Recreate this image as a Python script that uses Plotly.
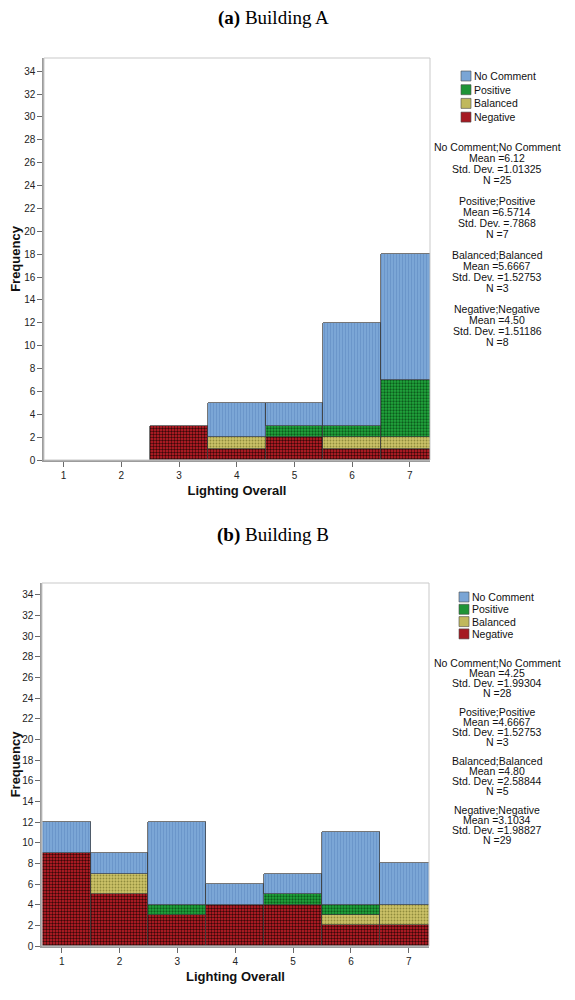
import plotly.graph_objects as go

# Lighting Overall rating (x categories)
ratings = [1, 2, 3, 4, 5, 6, 7]
groups = ["No Comment", "Positive", "Balanced", "Negative"]
y_ticks = list(range(0, 35, 2))

# (a) Building A - counts per rating
a_no_comment = [0, 0, 0, 3, 2, 9, 11]
a_positive = [0, 0, 0, 0, 1, 1, 5]
a_balanced = [0, 0, 0, 1, 0, 1, 1]
a_negative = [0, 0, 3, 1, 2, 1, 1]
a_means = ["6.12", "6.5714", "5.6667", "4.50"]
a_sds = ["1.01325", ".7868", "1.52753", "1.51186"]

# (b) Building B - counts per rating
b_no_comment = [3, 2, 8, 2, 2, 7, 4]
b_positive = [0, 0, 1, 0, 1, 1, 0]
b_balanced = [0, 2, 0, 0, 0, 1, 2]
b_negative = [9, 5, 3, 4, 4, 2, 2]
b_means = ["4.25", "4.6667", "4.80", "3.1034"]
b_sds = ["1.99304", "1.52753", "2.58844", "1.98827"]

# page body has an 8px margin, so the figure is a bit smaller than the window
OFF = 8
W, H = 575 - OFF, 1000 - OFF
SANS = "Liberation Sans, Arial, sans-serif"
SERIF = "Liberation Serif, Times New Roman, serif"

# fill style per group (bar pattern + flat swatch colour for the key)
style = {
    "No Comment": dict(bg="#7BA6D6", fg="#5F8CC2", shape="|", size=3, sol=0.2, sw="#7AA5D5"),
    "Positive": dict(bg="#22A83E", fg="#0C5C1C", shape=".", size=3, sol=0.45, sw="#1E9436"),
    "Balanced": dict(bg="#CCC268", fg="#8F8B3C", shape=".", size=3, sol=0.3, sw="#C0B85C"),
    "Negative": dict(bg="#CC1F2A", fg="#3A0808", shape=".", size=3, sol=0.5, sw="#A51A22"),
}


def px(x):
    return (x - OFF) / W


def py(y):
    return 1 - (y - OFF) / H


panels = [
    dict(tag="a", name="Building A", xa="x", ya="y",
         counts={"No Comment": a_no_comment, "Positive": a_positive,
                 "Balanced": a_balanced, "Negative": a_negative},
         means=a_means, sds=a_sds,
         xdom=[px(44), px(430)], ydom=[py(460), py(58)], title_y=18,
         leg_y0=76, leg_dy=13.7, leg_x=461,
         st_y0=147, st_dy=10.9, st_block=54),
    dict(tag="b", name="Building B", xa="x2", ya="y2",
         counts={"No Comment": b_no_comment, "Positive": b_positive,
                 "Balanced": b_balanced, "Negative": b_negative},
         means=b_means, sds=b_sds,
         xdom=[px(42), px(429)], ydom=[py(946), py(583)], title_y=535,
         leg_y0=597, leg_dy=12.3, leg_x=459,
         st_y0=663, st_dy=9.9, st_block=49),
]

fig = go.Figure()
annotations = []
shapes = []

for p in panels:
    # stacked from the bottom: Negative, Balanced, Positive, No Comment
    for g in reversed(groups):
        s = style[g]
        fig.add_trace(go.Bar(
            x=ratings, y=[v if v else None for v in p["counts"][g]], name=g, width=1,
            xaxis=p["xa"], yaxis=p["ya"],
            marker=dict(color=s["bg"],
                        line=dict(color="#3C3C3C", width=0.7),
                        pattern=dict(shape=s["shape"], fgcolor=s["fg"], bgcolor=s["bg"],
                                     size=s["size"], solidity=s["sol"])),
            showlegend=False))

    # light frame round the plot area
    shapes.append(dict(type="rect", xref=p["xa"] + " domain", yref=p["ya"] + " domain",
                       x0=0, x1=1, y0=0, y1=1, layer="above",
                       line=dict(color="#C9C9C9", width=1)))

    annotations.append(dict(
        text="<b>(%s)</b> %s" % (p["tag"], p["name"]), xref="paper", yref="paper",
        x=px(273), y=py(p["title_y"]), showarrow=False, xanchor="center", yanchor="middle",
        font=dict(family=SERIF, size=19, color="#000")))

    # key
    for i, g in enumerate(groups):
        yc = p["leg_y0"] + i * p["leg_dy"]
        shapes.append(dict(type="rect", xref="paper", yref="paper",
                           x0=px(p["leg_x"]), x1=px(p["leg_x"] + 10),
                           y0=py(yc + 5), y1=py(yc - 5),
                           fillcolor=style[g]["sw"], line=dict(color="#4A4A4A", width=0.6)))
        annotations.append(dict(
            text=g, xref="paper", yref="paper", x=px(p["leg_x"] + 11), y=py(yc),
            showarrow=False, xanchor="left", yanchor="middle",
            font=dict(family=SANS, size=10.5, color="#111")))

    # descriptive statistics per group
    for i, g in enumerate(groups):
        n = sum(p["counts"][g])
        lines = ["%s;%s" % (g, g), "Mean =" + p["means"][i],
                 "Std. Dev. =" + p["sds"][i], "N =%d" % n]
        for j, t in enumerate(lines):
            yc = p["st_y0"] + i * p["st_block"] + j * p["st_dy"]
            annotations.append(dict(
                text=t, xref="paper", yref="paper", x=px(497), y=py(yc),
                showarrow=False, xanchor="center", yanchor="middle",
                font=dict(family=SANS, size=10.5, color="#111")))

axis_common = dict(showgrid=False, zeroline=False, showline=True,
                   linecolor="#9C9C9C", linewidth=1.5, ticks="outside", ticklen=5,
                   tickwidth=1, tickcolor="#6A6A6A",
                   tickfont=dict(family=SANS, size=10, color="#222"))

layout_axes = {}
for p in panels:
    xk = "xaxis" if p["xa"] == "x" else "xaxis2"
    yk = "yaxis" if p["ya"] == "y" else "yaxis2"
    layout_axes[xk] = dict(axis_common, domain=p["xdom"], range=[0.66, 7.35],
                           tickvals=ratings, anchor=p["ya"],
                           title=dict(text="<b>Lighting Overall</b>", standoff=6,
                                      font=dict(family=SANS, size=13, color="#111")))
    layout_axes[yk] = dict(axis_common, domain=p["ydom"], range=[0, 35.15],
                           tickvals=y_ticks, anchor=p["xa"],
                           title=dict(text="<b>Frequency</b>", standoff=2,
                                      font=dict(family=SANS, size=13, color="#111")))

fig.update_layout(
    template="none",
    width=W, height=H,
    margin=dict(l=0, r=0, t=0, b=0),
    barmode="stack", bargap=0,
    paper_bgcolor="white", plot_bgcolor="white",
    showlegend=False,
    annotations=annotations, shapes=shapes,
    **layout_axes)

fig.write_html("out.html")
